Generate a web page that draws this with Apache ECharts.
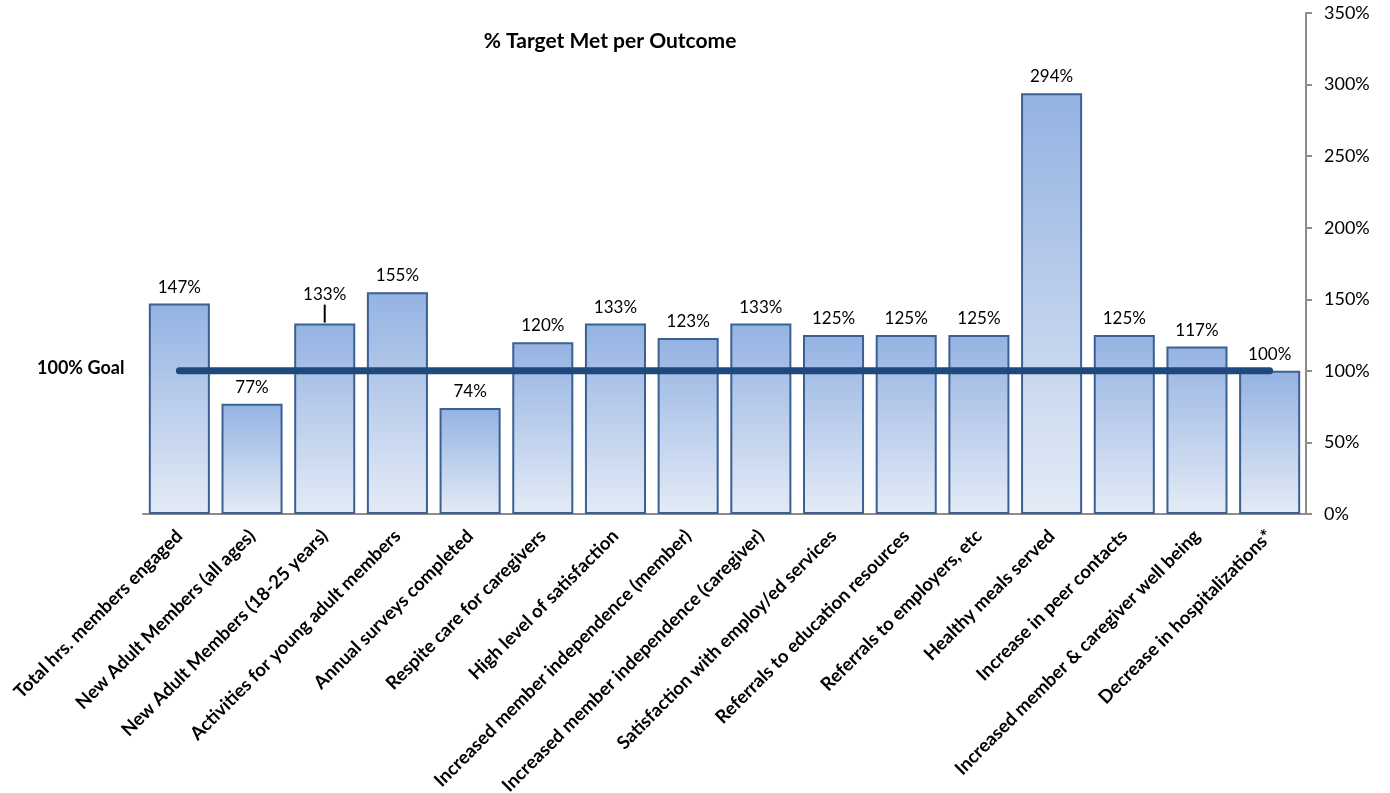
<!DOCTYPE html>
<html><head><meta charset="utf-8">
<script src="https://cdn.jsdelivr.net/npm/echarts@6/dist/echarts.min.js"></script>
<style>html,body{margin:0;padding:0;background:#fff}#c{width:1390px;height:793px}</style>
</head><body><div id="c"></div>
<script>
const categories = ["Total hrs. members engaged","New Adult Members (all ages)","New Adult Members (18-25 years)","Activities for young adult members","Annual surveys completed","Respite care for caregivers","High level of satisfaction","Increased member independence (member)","Increased member independence (caregiver)","Satisfaction with employ/ed services","Referrals to education resources","Referrals to employers, etc","Healthy meals served","Increase in peer contacts","Increased member & caregiver well being","Decrease in hospitalizations*"];
const values = [147,77,133,155,74,120,133,123,133,125,125,125,294,125,117,100];
const goal = [100,100,100,100,100,100,100,100,100,100,100,100,100,100,100,100];
const yTicks = [0,50,100,150,200,250,300,350];
const leaderIndex = 2;
const FONT = 'Lato, "Open Sans", sans-serif';
const chart = echarts.init(document.getElementById('c'));
chart.setOption({
  animation:false,
  title:{text:'% Target Met per Outcome',left:605,top:26,textAlign:'center',textStyle:{fontFamily:FONT,fontSize:21,fontWeight:'bold',color:'#000'}},
  grid:{left:143,right:84,top:13,bottom:279,containLabel:false,outerBoundsMode:'none'},
  xAxis:{type:'category',data:categories,
    axisLine:{lineStyle:{color:'#8c8c8c',width:2}},axisTick:{show:false},
    axisLabel:{rotate:45,interval:0,fontFamily:FONT,fontSize:18.5,fontWeight:'bold',color:'#000',margin:19}},
  yAxis:{type:'value',position:'right',min:0,max:350,interval:50,
    axisLine:{show:true,lineStyle:{color:'#8c8c8c',width:2}},
    axisTick:{show:true,length:6,lineStyle:{color:'#8c8c8c',width:2}},
    splitLine:{show:false},
    axisLabel:{fontFamily:FONT,fontSize:18,color:'#000',margin:18,formatter:v=>v+'%'}},
  graphic:[{type:'text',left:37,top:359,style:{text:'100% Goal',font:'bold 18px '+FONT,fill:'#000'}}],
  series:[
    {type:'bar',data:values.map((v,i)=>i===leaderIndex?{value:v,label:{distance:21}}:v),barCategoryGap:'16%',
     itemStyle:{borderColor:'#3b6094',borderWidth:2,
       color:new echarts.graphic.LinearGradient(0,0,0,1,[{offset:0,color:'#94b2e2'},{offset:1,color:'#e4ebf6'}],false)},
     label:{show:true,position:'top',distance:8,fontFamily:FONT,fontSize:17,color:'#000',formatter:p=>p.value+'%'},
     z:2},
    {type:'custom',data:[[leaderIndex,values[leaderIndex]]],z:4,silent:true,
     renderItem:(params,api)=>{const p=api.coord([api.value(0),api.value(1)]);
       return {type:'line',shape:{x1:p[0],y1:p[1]-1,x2:p[0],y2:p[1]-19},style:{stroke:'#000',lineWidth:2}};}},
    {type:'line',data:goal,symbol:'none',lineStyle:{color:'#1f497d',width:7,cap:'round'},z:3}
  ]
});
</script></body></html>
